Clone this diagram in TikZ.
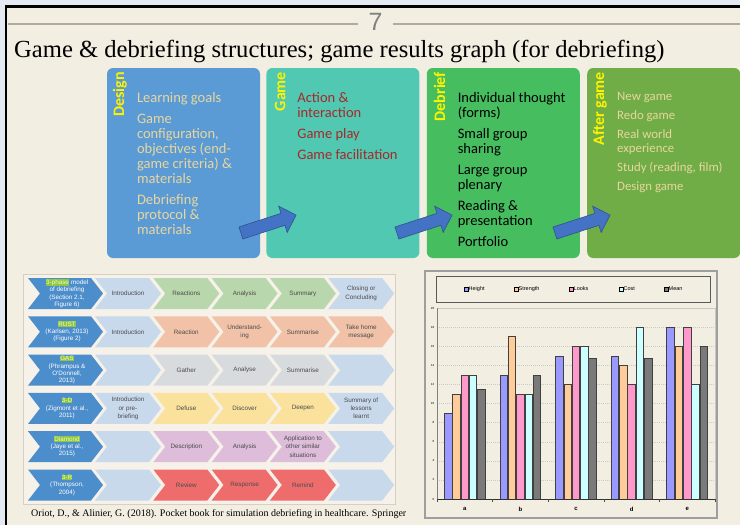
\documentclass[tikz,border=0pt]{standalone}
\usepackage{fontspec}
\setmainfont{Liberation Serif}
\newfontfamily\boxfont{Carlito}
\newfontfamily\smallsans{Liberation Sans}
\usetikzlibrary{shapes.arrows,positioning}

\definecolor{slidebg}{HTML}{F3EEE2}
\definecolor{outerbg}{HTML}{E4E9F2}
\definecolor{rulecol}{HTML}{B3AA9A}
\definecolor{numgray}{HTML}{808080}
\definecolor{designblue}{HTML}{5B9BD5}
\definecolor{gameteal}{HTML}{50C8B2}
\definecolor{debriefgreen}{HTML}{46BE60}
\definecolor{aftergreen}{HTML}{70AD47}
\definecolor{paletext}{HTML}{E8D69E}
\definecolor{gamered}{HTML}{A8282A}
\definecolor{arrowblue}{HTML}{4472C4}
\definecolor{arrowedge}{HTML}{2F528F}
% chevron table
\definecolor{panelbg}{HTML}{F6F2E9}
\definecolor{paneledge}{HTML}{D6D0C2}
\definecolor{modelblue}{HTML}{4C8DCB}
\definecolor{cellblue}{HTML}{C9D9EC}
\definecolor{cellgreen}{HTML}{B9D7AC}
\definecolor{cellsalmon}{HTML}{F2C2A8}
\definecolor{cellgray}{HTML}{D8DBDE}
\definecolor{cellyellow}{HTML}{FAE29C}
\definecolor{celllilac}{HTML}{DDBDDA}
\definecolor{cellred}{HTML}{EE6D6C}
\definecolor{celltextcol}{HTML}{4A4A4A}
\definecolor{hlgreen}{HTML}{8DC63F}
\definecolor{hltext}{HTML}{F4F9C8}
% chart
\definecolor{bar0}{HTML}{9999FF}
\definecolor{bar1}{HTML}{FFCC99}
\definecolor{bar2}{HTML}{FF99CC}
\definecolor{bar3}{HTML}{CCFFFF}
\definecolor{bar4}{HTML}{7A7A7A}
\definecolor{chartedge}{HTML}{9E9E9E}
\definecolor{gridcol}{HTML}{C8C8C8}

\newcommand\modelname[1]{{\setlength{\fboxsep}{0.4pt}\colorbox{hlgreen}{\textcolor{hltext}{#1}}}}
% one chevron of the table: name, x, y, fill, text
\newcommand\chevcell[5]{%
  \fill[#4] ({#2-33},{#3-15.5}) -- ({#2+21},{#3-15.5}) -- ({#2+33},#3)
    -- ({#2+21},{#3+15.5}) -- ({#2-33},{#3+15.5}) -- ({#2-21},#3) -- cycle;
  \node[celltext] (#1) at (#2,#3) {#5};}
% first (model) chevron of a row: name, y, text
\newcommand\modelcell[3]{%
  \fill[modelblue] (28,{#2-15.5}) -- (91,{#2-15.5}) -- (103,#2)
    -- (91,{#2+15.5}) -- (28,{#2+15.5}) -- (40,#2) -- cycle;
  \node[modeltext] (#1) at (67,#2) {#3};}

\begin{document}
\begin{tikzpicture}[x=1pt, y=-1pt,
    box/.style={rounded corners=6, minimum width=153, minimum height=190, inner sep=0},
    vlabel/.style={rotate=90, inner sep=0, text=yellow, font=\boxfont\bfseries\fontsize{16}{18}\selectfont},
    boxitems/.style={align=left, inner sep=0, font=\boxfont\fontsize{14.5}{15}\selectfont},
    afteritems/.style={align=left, inner sep=0, text=paletext, font=\boxfont\fontsize{12.8}{14}\selectfont},
    blockarrow/.style={single arrow, fill=arrowblue, draw=arrowedge, line width=0.6,
      minimum height=58, inner xsep=0, inner ysep=6, single arrow head extend=7.5},
    celltext/.style={align=center, inner sep=0, text=celltextcol, font=\smallsans\fontsize{6.3}{8.3}\selectfont},
    modeltext/.style={align=center, inner sep=0, text=white, font=\smallsans\fontsize{6.3}{7.4}\selectfont},
    legendtext/.style={inner sep=1, font=\smallsans\fontsize{5.5}{6}\selectfont},
    ticktext/.style={inner sep=0.5, font=\smallsans\fontsize{3}{3.5}\selectfont},
    bar/.style={draw=black!75, line width=0.5}]
  \useasboundingbox (0,0) rectangle (740,525);
  % slide background and frame
  \fill[outerbg] (0,0) rectangle (740,525);
  \fill[slidebg] (6,6.5) rectangle (740,525);
  \draw[black, line width=2.8] (6,525) -- (6,6.5) -- (740,6.5);

  % header
  \node[inner xsep=10, inner ysep=0, text=numgray, font=\smallsans\fontsize{25}{25}\selectfont] (pagenum) at (375.5,22) {7};
  \coordinate (ruleleft) at (8,24);
  \coordinate (ruleright) at (740,24);
  \draw[rulecol, line width=1.8] (ruleleft) -- (pagenum.west |- ruleleft);
  \draw[rulecol, line width=1.8] (pagenum.east |- ruleright) -- (ruleright);
  \node[anchor=base west, inner sep=0, font=\fontsize{24.6}{28}\selectfont] (title) at (14,57)
    {Game \& debriefing structures; game results graph (for debriefing)};

  % the four stages
  \node[box, fill=designblue] (design) at (183.5,163) {};
  \node[box, fill=gameteal, right=6 of design] (game) {};
  \node[box, fill=debriefgreen, right=7 of game] (debrief) {};
  \node[box, fill=aftergreen, right=7 of debrief] (aftergame) {};

  \node[vlabel, anchor=east] (designlab) at ([xshift=13, yshift=-4]design.north west) {Design};
  \node[vlabel, anchor=east] (gamelab) at ([xshift=14, yshift=-4]game.north west) {Game};
  \node[vlabel, anchor=east] (debrieflab) at ([xshift=13, yshift=-4]debrief.north west) {Debrief};
  \node[vlabel, anchor=east] (afterlab) at ([xshift=13, yshift=-4]aftergame.north west) {After game};

  \node[boxitems, text=paletext, anchor=north west] (designitems) at ([xshift=30, yshift=-24]design.north west)
    {Learning goals\\[6pt]Game\\configuration,\\objectives (end-\\game criteria) \&\\materials\\[6pt]Debriefing\\protocol \&\\materials};
  \node[boxitems, text=gamered, anchor=north west] (gameitems) at ([xshift=31, yshift=-24]game.north west)
    {Action \&\\interaction\\[6pt]Game play\\[6pt]Game facilitation};
  \node[boxitems, text=black, anchor=north west] (debriefitems) at ([xshift=31, yshift=-24]debrief.north west)
    {Individual thought\\(forms)\\[6pt]Small group\\sharing\\[6pt]Large group\\plenary\\[6pt]Reading \&\\presentation\\[6pt]Portfolio};
  \node[afteritems, anchor=north west] (afteritems) at ([xshift=30, yshift=-24]aftergame.north west)
    {New game\\[5pt]Redo game\\[5pt]Real world\\experience\\[5pt]Study (reading, film)\\[5pt]Design game};

  \node[blockarrow, rotate=18] (arrow1) at (265.5,225) {};
  \node[blockarrow, rotate=18] (arrow2) at (421.5,225) {};
  \node[blockarrow, rotate=18] (arrow3) at (579.5,225) {};

  % debriefing models (chevron table)
  \draw[fill=panelbg, draw=paneledge, line width=0.8] (23,274) rectangle (395,504);
  \modelcell{m1}{293.5}{\modelname{3-phase} model\\of debriefing\\(Section 2.1,\\Figure 6)}
  \chevcell{r1c1}{128}{293.5}{cellblue}{Introduction}
  \chevcell{r1c2}{186.3}{293.5}{cellgreen}{Reactions}
  \chevcell{r1c3}{244.6}{293.5}{cellgreen}{Analysis}
  \chevcell{r1c4}{302.9}{293.5}{cellgreen}{Summary}
  \chevcell{r1c5}{361.2}{293.5}{cellblue}{Closing or\\Concluding}

  \modelcell{m2}{331.8}{\modelname{RUST}\\(Karlsen, 2013)\\(Figure 2)}
  \chevcell{r2c1}{128}{331.8}{cellblue}{Introduction}
  \chevcell{r2c2}{186.3}{331.8}{cellsalmon}{Reaction}
  \chevcell{r2c3}{244.6}{331.8}{cellsalmon}{Understand-\\ing}
  \chevcell{r2c4}{302.9}{331.8}{cellsalmon}{Summarise}
  \chevcell{r2c5}{361.2}{331.8}{cellsalmon}{Take home\\message}

  \modelcell{m3}{370.1}{\modelname{GAS}\\(Phrampus \&\\O'Donnell,\\2013)}
  \chevcell{r3c1}{128}{370.1}{cellblue}{}
  \chevcell{r3c2}{186.3}{370.1}{cellgray}{Gather}
  \chevcell{r3c3}{244.6}{370.1}{cellgray}{Analyse}
  \chevcell{r3c4}{302.9}{370.1}{cellgray}{Summarise}
  \chevcell{r3c5}{361.2}{370.1}{cellblue}{}

  \modelcell{m4}{408.4}{\modelname{3-D}\\(Zigmont et al.,\\2011)}
  \chevcell{r4c1}{128}{408.4}{cellblue}{Introduction\\or pre-\\briefing}
  \chevcell{r4c2}{186.3}{408.4}{cellyellow}{Defuse}
  \chevcell{r4c3}{244.6}{408.4}{cellyellow}{Discover}
  \chevcell{r4c4}{302.9}{408.4}{cellyellow}{Deepen}
  \chevcell{r4c5}{361.2}{408.4}{cellblue}{Summary of\\lessons\\learnt}

  \modelcell{m5}{446.7}{\modelname{Diamond}\\(Jaye et al.,\\2015)}
  \chevcell{r5c1}{128}{446.7}{cellblue}{}
  \chevcell{r5c2}{186.3}{446.7}{celllilac}{Description}
  \chevcell{r5c3}{244.6}{446.7}{celllilac}{Analysis}
  \chevcell{r5c4}{302.9}{446.7}{celllilac}{Application to\\other similar\\situations}
  \chevcell{r5c5}{361.2}{446.7}{cellblue}{}

  \modelcell{m6}{485}{\modelname{3-R}\\(Thompson,\\2004)}
  \chevcell{r6c1}{128}{485}{cellblue}{}
  \chevcell{r6c2}{186.3}{485}{cellred}{Review}
  \chevcell{r6c3}{244.6}{485}{cellred}{Response}
  \chevcell{r6c4}{302.9}{485}{cellred}{Remind}
  \chevcell{r6c5}{361.2}{485}{cellblue}{}

  \node[anchor=base west, inner sep=0, font=\fontsize{10}{12}\selectfont] (source) at (31,516.5)
    {Oriot, D., \& Alinier, G. (2018). Pocket book for simulation debriefing in healthcare. Springer};

  % game results chart
  \draw[draw=chartedge, line width=1.6] (425,271) rectangle (717,518);
  \draw[draw=black!65, line width=0.8] (436,276) rectangle (710,302);
  \foreach \lx/\name [count=\k from 0] in {466/Height, 516/Strength, 571/Looks, 621/Cost, 666/Mean} {
    \filldraw[fill=bar\k, draw=black, line width=0.4] ({\lx-2},287) rectangle ({\lx+2},291);
    \node[legendtext, anchor=west] (leg\name) at ({\lx+1.5},289) {\name};
  }
  \draw[gridcol, line width=0.5] (437,308) rectangle (715,499);
  \foreach \k in {1,...,9}
    \draw[gridcol, line width=0.4, dash pattern=on 1pt off 1pt] (437,{499-19.1*\k}) -- (715,{499-19.1*\k});
  \foreach \k [evaluate=\k as \v using int(2*\k)] in {0,...,10}
    \node[ticktext, anchor=east] (tick\k) at (435,{499-19.1*\k}) {\v};
  \foreach \cat/\vals [count=\j from 0] in {a/{9,11,13,13,11.5}, b/{13,17,11,11,13},
      c/{15,12,16,16,14.75}, d/{15,14,12,18,14.75}, e/{18,16,18,12,16}} {
    \foreach \v [count=\k from 0] in \vals
      \filldraw[bar, fill=bar\k] ({444.3+55.6*\j+8.3*\k},499) rectangle ++(7.5,{-9.55*\v});
    \node[inner sep=0, font=\smallsans\bfseries\fontsize{6}{7}\selectfont] (cat\cat) at ({464.8+55.6*\j},509) {\cat};
  }
  \draw[black!80, line width=0.8] (437,499) -- (715,499);
  \draw[gray, line width=0.6] (437,308) -- (437,499);
  \foreach \j in {0,...,5}
    \draw[black!70, line width=0.4] ({437+55.6*\j},499) -- ({437+55.6*\j},502);
\end{tikzpicture}
\end{document}
